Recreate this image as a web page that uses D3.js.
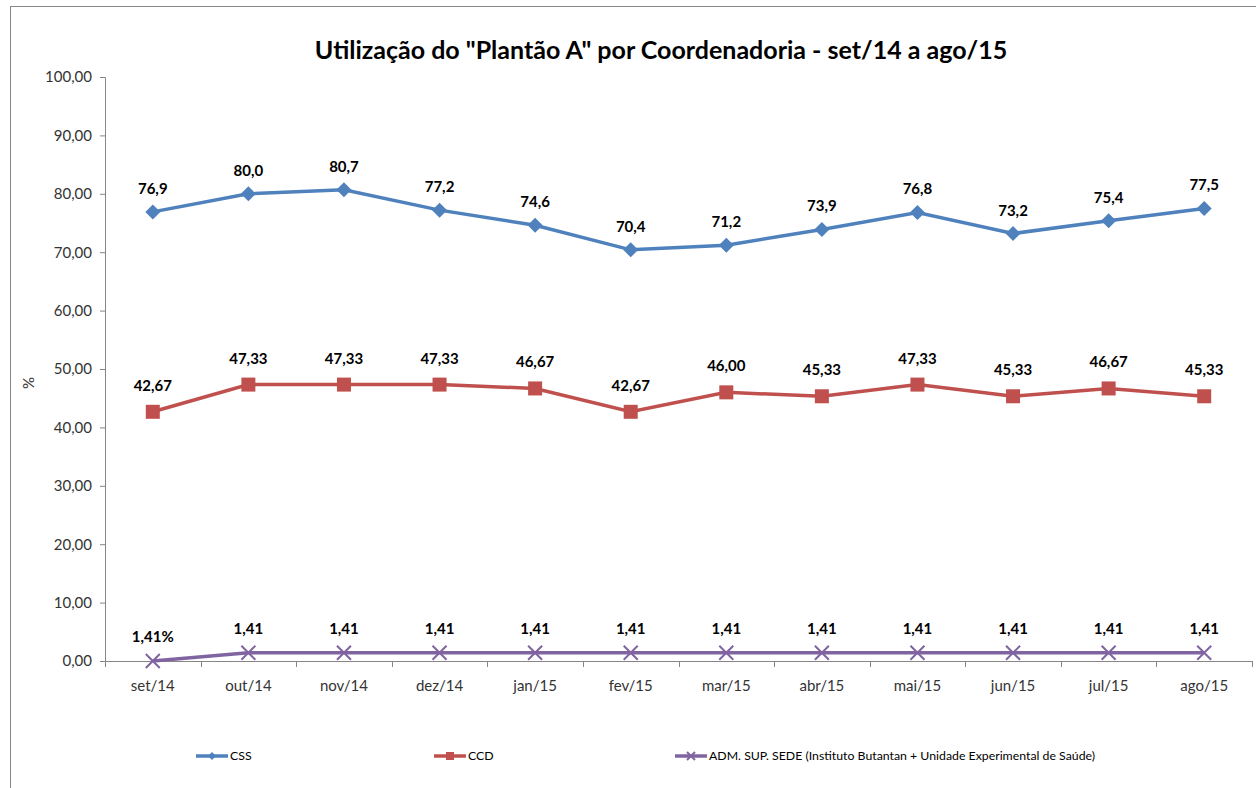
<!DOCTYPE html>
<html>
<head>
<meta charset="utf-8">
<script src="https://cdnjs.cloudflare.com/ajax/libs/d3/7.8.5/d3.min.js"></script>
<style>
  body { margin: 0; background: #fff; }
  svg text { font-family: Lato, "Open Sans", sans-serif; }
</style>
</head>
<body>
<div id="chart"></div>
<script>
// dados
var meses = ["set/14", "out/14", "nov/14", "dez/14", "jan/15", "fev/15", "mar/15", "abr/15", "mai/15", "jun/15", "jul/15", "ago/15"];
var css = [76.9, 80.0, 80.7, 77.2, 74.6, 70.4, 71.2, 73.9, 76.8, 73.2, 75.4, 77.5];
var ccd = [42.67, 47.33, 47.33, 47.33, 46.67, 42.67, 46.00, 45.33, 47.33, 45.33, 46.67, 45.33];
var adm = [0, 1.41, 1.41, 1.41, 1.41, 1.41, 1.41, 1.41, 1.41, 1.41, 1.41, 1.41];
var admRotulos = ["1,41%", "1,41", "1,41", "1,41", "1,41", "1,41", "1,41", "1,41", "1,41", "1,41", "1,41", "1,41"];
var yTicks = [0, 10, 20, 30, 40, 50, 60, 70, 80, 90, 100];

var w = 1256, h = 788;
var marginLeft = 105, marginTop = 77, plotW = 1147, plotH = 584;

var svg = d3.select("#chart").append("svg")
    .attr("width", w).attr("height", h);

// moldura
svg.append("rect")
    .attr("x", 10.5).attr("y", 6.5)
    .attr("width", 1260).attr("height", 800)
    .attr("fill", "none").attr("stroke", "#868686").attr("stroke-width", 1);

svg.append("text")
    .attr("x", 661).attr("y", 59)
    .attr("text-anchor", "middle")
    .attr("font-size", 25).attr("font-weight", "bold")
    .attr("fill", "#000")
    .text("Utilização do \"Plantão A\" por Coordenadoria - set/14 a ago/15");

var g = svg.append("g").attr("transform", "translate(" + marginLeft + "," + marginTop + ")");

var x = d3.scaleBand().domain(meses).range([0, plotW]);
var y = d3.scaleLinear().domain([0, 100]).range([plotH, 0]);
var fmt = function(v) { return d3.format(".2f")(v).replace(".", ","); };

// eixo y
var yAxis = g.append("g").call(d3.axisLeft(y).tickValues(yTicks).tickFormat(fmt).tickSize(5).tickPadding(8));
yAxis.select(".domain").attr("stroke", "#868686");
yAxis.selectAll(".tick line").attr("stroke", "#868686");
yAxis.selectAll("text").attr("font-size", 15).attr("fill", "#333")
    .style("font-family", "Lato, sans-serif");

// eixo x com ticks entre categorias
var xAxisG = g.append("g").attr("transform", "translate(0," + plotH + ")");
xAxisG.append("line").attr("x1", 0).attr("x2", plotW).attr("y1", 0.5).attr("y2", 0.5)
    .attr("stroke", "#868686");
xAxisG.selectAll("line.tk").data(d3.range(meses.length + 1)).enter().append("line")
    .attr("class", "tk")
    .attr("x1", function(i) { return Math.round(i * x.step()) + 0.5; })
    .attr("x2", function(i) { return Math.round(i * x.step()) + 0.5; })
    .attr("y1", 0).attr("y2", 6).attr("stroke", "#868686");
xAxisG.selectAll("text").data(meses).enter().append("text")
    .attr("x", function(d) { return x(d) + x.bandwidth() / 2; })
    .attr("y", 30)
    .attr("text-anchor", "middle")
    .attr("font-size", 15).attr("fill", "#333")
    .text(function(d) { return d; });

svg.append("text")
    .attr("transform", "translate(34,383) rotate(-90)")
    .attr("text-anchor", "middle")
    .attr("font-size", 15).attr("fill", "#333")
    .text("%");

var cx = function(d, i) { return x(meses[i]) + x.bandwidth() / 2; };
var line = d3.line().x(cx).y(function(d) { return y(d); });

var series = [
  { nome: "CSS", dados: css, cor: "#4F81BD", rot: css.map(function(v) { return d3.format(".1f")(v).replace(".", ","); }), dy: -18, marca: "diamond" },
  { nome: "CCD", dados: ccd, cor: "#C0504D", rot: ccd.map(fmt), dy: -21, marca: "square" },
  { nome: "ADM. SUP. SEDE (Instituto Butantan + Unidade Experimental de Saúde)", dados: adm, cor: "#8064A2", rot: admRotulos, dy: -19, marca: "x" }
];

function marker(sel, tipo, cor, s) {
  if (tipo === "diamond") {
    sel.append("path").attr("d", "M0,-" + s + "L" + s + ",0L0," + s + "L-" + s + ",0Z").attr("fill", cor);
  } else if (tipo === "square") {
    sel.append("rect").attr("x", -s).attr("y", -s).attr("width", 2 * s).attr("height", 2 * s).attr("fill", cor);
  } else {
    sel.append("path").attr("d", "M-" + s + ",-" + s + "L" + s + "," + s + "M" + s + ",-" + s + "L-" + s + "," + s)
        .attr("stroke", cor).attr("stroke-width", 2).attr("fill", "none");
  }
}

series.forEach(function(s) {
  var sg = g.append("g");
  sg.append("path").datum(s.dados)
      .attr("d", line)
      .attr("fill", "none").attr("stroke", s.cor).attr("stroke-width", 3.5);
  s.dados.forEach(function(v, i) {
    var m = sg.append("g").attr("transform", "translate(" + cx(v, i) + "," + y(v) + ")");
    marker(m, s.marca, s.cor, s.marca === "diamond" ? 7.5 : 7);
  });
  sg.selectAll("text").data(s.dados).enter().append("text")
      .attr("x", cx)
      .attr("y", function(d) { return y(d) + s.dy; })
      .attr("text-anchor", "middle")
      .attr("font-size", 15).attr("font-weight", "bold").attr("fill", "#000")
      .text(function(d, i) { return s.rot[i]; });
});

// legenda
var leg = [
  { x: 196, s: series[0] },
  { x: 434, s: series[1] },
  { x: 675, s: series[2] }
];
leg.forEach(function(l) {
  var lg = svg.append("g").attr("transform", "translate(" + l.x + ",756)");
  lg.append("line").attr("x1", 0).attr("x2", 32).attr("stroke", l.s.cor).attr("stroke-width", 3.5);
  var m = lg.append("g").attr("transform", "translate(16,0)");
  marker(m, l.s.marca, l.s.cor, 4);
  lg.append("text").attr("x", 34).attr("y", 4)
      .attr("font-size", 12.3).attr("fill", "#000")
      .text(l.s.nome);
});
</script>
</body>
</html>
